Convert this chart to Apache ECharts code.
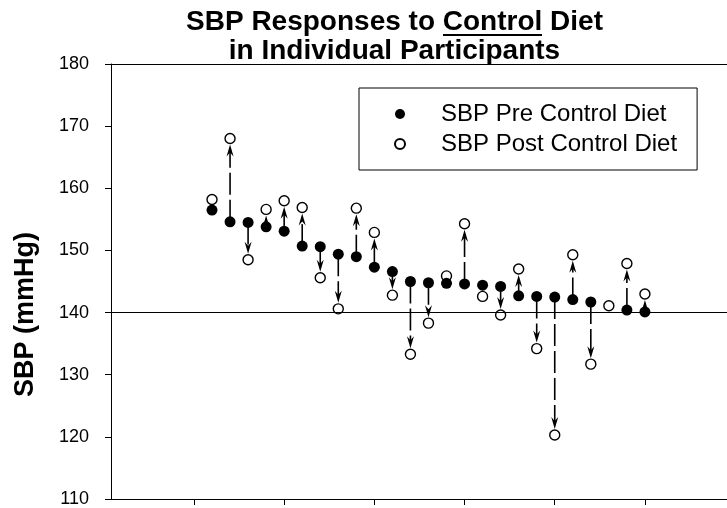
<!DOCTYPE html>
<html>
<head>
<meta charset="utf-8">
<script src="https://cdn.jsdelivr.net/npm/echarts@6/dist/echarts.min.js"></script>
<style>
  html, body { margin: 0; padding: 0; background: #fff; }
  #chart { width: 727px; height: 508px; }
</style>
</head>
<body>
<div id="chart"></div>
<script>
const participants = [1, 2, 3, 4, 5, 6, 7, 8, 9, 10, 11, 12, 13, 14, 15, 16, 17, 18, 19, 20, 21, 22, 23, 24, 25]
const preSBP = [156.5, 154.6, 154.5, 153.8, 153.1, 150.7, 150.6, 149.4, 149.0, 147.3, 146.6, 145.0, 144.8,
  144.7, 144.6, 144.4, 144.2, 142.7, 142.6, 142.5, 142.1, 141.7, null, 140.4, 140.1]
const postSBP = [158.2, 168.0, 148.5, 156.6, 158.0, 156.9, 145.6, 140.6, 156.8, 152.9, 142.8, 133.3, 138.3,
  145.9, 154.3, 142.6, 139.6, 147.0, 134.2, 120.3, 149.3, 131.7, 141.1, 147.9, 143.0]
const xTicks = [0, 5, 10, 15, 20, 25]
const refLine = 140
const seriesNames = ['SBP Pre Control Diet', 'SBP Post Control Diet']

const font = '"Liberation Sans", Arial, sans-serif'
const chart = echarts.init(document.getElementById('chart'))

const arrowData = participants
  .map((p, i) => [p, preSBP[i], postSBP[i]])
  .filter(d => d[1] !== null && d[2] !== null)

// dashed line from pre to post, arrow head stopping at the post circle
function renderArrow (params, api) {
  const a = api.coord([api.value(0), api.value(1)])
  const b = api.coord([api.value(0), api.value(2)])
  const dy = b[1] - a[1]
  if (Math.abs(dy) < 12) return null
  const dir = dy > 0 ? 1 : -1
  const x = a[0]
  const tip = b[1] - dir * 6
  return {
    type: 'group',
    children: [
      {
        type: 'line',
        shape: { x1: x, y1: a[1], x2: x, y2: tip - dir * 7 },
        style: { stroke: '#000', lineWidth: 1.6, lineDash: [22, 5] }
      },
      {
        type: 'polygon',
        shape: { points: [[x, tip], [x - 3.5, tip - dir * 12], [x, tip - dir * 8], [x + 3.5, tip - dir * 12]] },
        style: { fill: '#000' }
      }
    ]
  }
}

const option = {
  animation: false,
  backgroundColor: '#fff',
  textStyle: { fontFamily: font },
  grid: { left: 111, top: 64, right: 0, bottom: 9 },
  graphic: [
    {
      type: 'text', x: 394.5, y: 22,
      style: { text: 'SBP Responses to Control Diet', font: 'bold 28px ' + font, fill: '#000', align: 'center', verticalAlign: 'middle' }
    },
    {
      type: 'text', x: 394.5, y: 51,
      style: { text: 'in Individual Participants', font: 'bold 28px ' + font, fill: '#000', align: 'center', verticalAlign: 'middle' }
    },
    {
      type: 'line',
      shape: { x1: 443, y1: 35, x2: 542, y2: 35 },
      style: { stroke: '#000', lineWidth: 2 }
    }
  ],
  legend: {
    data: seriesNames,
    orient: 'vertical',
    left: 359,
    top: 88,
    padding: [14, 20, 14, 35],
    itemWidth: 72,
    itemHeight: 10,
    itemGap: 6,
    borderColor: '#000',
    borderWidth: 1,
    backgroundColor: '#fff',
    textStyle: { fontSize: 24, color: '#000', fontFamily: font }
  },
  xAxis: [
    {
      type: 'value',
      min: -4.6,
      max: 29.55,
      axisLine: { onZero: false, lineStyle: { color: '#000', width: 1 } },
      axisTick: { show: true, customValues: xTicks, length: 6, lineStyle: { color: '#000' } },
      axisLabel: { show: false },
      splitLine: { show: false }
    },
    {
      type: 'value',
      position: 'top',
      min: -4.6,
      max: 29.55,
      axisLine: { onZero: false, lineStyle: { color: '#000', width: 1 } },
      axisTick: { show: false },
      axisLabel: { show: false },
      splitLine: { show: false }
    }
  ],
  yAxis: {
    type: 'value',
    min: 110,
    max: 180,
    interval: 10,
    name: 'SBP (mmHg)',
    nameLocation: 'middle',
    nameGap: 72,
    nameTextStyle: { fontSize: 27, fontWeight: 'bold', color: '#000', fontFamily: font, padding: [0, 66, 0, 0] },
    axisLine: { show: true, onZero: false, lineStyle: { color: '#000', width: 1 } },
    axisTick: { show: true, length: 6, lineStyle: { color: '#000' } },
    axisLabel: { fontSize: 18, color: '#000', margin: 22, fontFamily: font },
    splitLine: { show: false }
  },
  series: [
    {
      type: 'custom',
      renderItem: renderArrow,
      data: arrowData,
      encode: { x: 0, y: [1, 2] },
      silent: true,
      z: 1
    },
    {
      name: seriesNames[1],
      type: 'scatter',
      data: participants.map((p, i) => [p, postSBP[i]]),
      symbol: 'circle',
      symbolSize: 10,
      itemStyle: { color: '#fff', borderColor: '#000', borderWidth: 1.4, opacity: 1 },
      z: 3,
      markLine: {
        silent: true,
        symbol: 'none',
        label: { show: false },
        lineStyle: { color: '#000', type: 'solid', width: 1 },
        data: [{ yAxis: refLine }]
      }
    },
    {
      name: seriesNames[0],
      type: 'scatter',
      data: participants.map((p, i) => [p, preSBP[i]]).filter(d => d[1] !== null),
      symbol: 'circle',
      symbolSize: 11,
      itemStyle: { color: '#000', opacity: 1 },
      z: 4
    }
  ]
}

chart.setOption(option)
</script>
</body>
</html>
